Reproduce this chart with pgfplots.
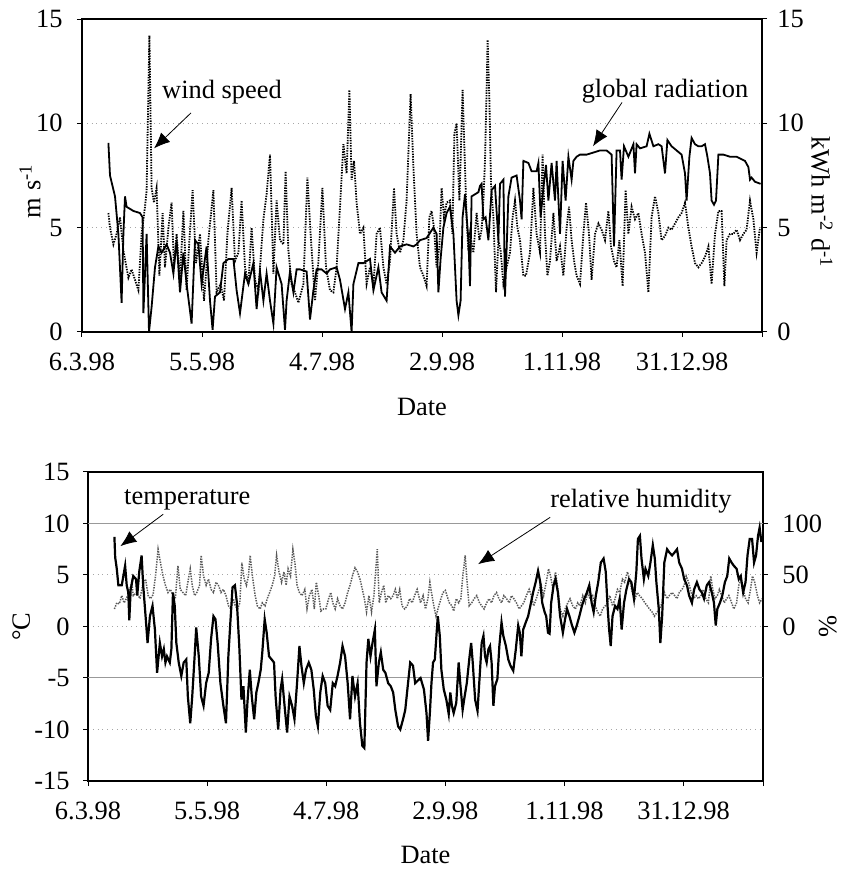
\documentclass[border=0pt,12pt]{standalone}
\usepackage{fontspec}
\setmainfont{Liberation Serif}
\usepackage{pgfplots}
\usepackage{pgfplotstable}
\pgfplotsset{compat=1.18}
\usetikzlibrary{arrows.meta}

% global radiation (kWh m-2 d-1), day since 6.3.98
\pgfplotstableread{
d v
13.2 9.06
14 7.5
16.5 6.5
18.2 4.7
19.8 1.4
20.7 4.7
21.5 6.5
22.3 6.0
25.7 5.8
29 5.7
30.3 5.5
30.7 0.9
32.3 4.7
33.5 0.0
34.8 1.2
36.5 3.1
38.2 4.1
39.8 3.8
42.3 4.2
44 3.8
45.7 2.8
47.3 4.4
49 1.9
50.7 3.8
52.3 2.3
54.8 0.4
56.5 4.4
58.2 4.2
59.8 2.3
62.3 4.1
64 1.5
65.3 0.1
66.5 1.7
69 1.9
70.7 3.3
73.2 3.5
75.7 3.5
77.3 2.0
79 0.9
81.5 2.8
83.2 2.3
85.7 3.3
87.3 1.1
89 2.9
90.7 1.5
92.3 2.8
94 1.5
95.7 0.4
97.3 3.1
99.8 2.3
101.5 0.1
102.3 1.5
104 2.9
105.7 1.9
107.3 3.0
109 3.0
112.3 2.9
114 0.6
115.7 2.0
117.3 3.0
119.8 3.0
122.3 2.8
124 3.0
127.3 3.1
129 2.5
131.5 1.1
133.2 1.9
134.8 0.0
135.7 2.3
138.2 3.3
140.7 3.3
144 3.5
145.7 2.0
148.2 3.1
149.8 1.9
152.3 1.5
154 4.1
156.5 3.8
159 4.1
162.3 4.2
165.7 4.1
167.3 4.2
169 4.4
172.3 4.5
175.7 5.0
177.3 4.7
178.2 1.9
179.3 3.5
180.7 5.0
182.3 5.7
184 6.0
185.7 4.7
187.3 1.5
188.2 0.8
189.3 1.5
190.3 5.5
191.5 6.6
193.2 4.4
194 2.2
194.8 6.5
196.5 6.6
198.2 6.7
199 7.0
199.8 7.1
200.7 5.4
201.8 5.5
203.2 4.4
204.8 6.8
206.5 7.0
208.2 4.4
209 7.1
210.7 7.3
211.5 1.7
213.2 6.5
214.8 7.4
217.3 7.5
219 6.3
219.8 5.4
220.7 8.2
223.2 8.1
224.8 7.7
227.3 7.7
228.2 8.1
229.3 5.5
230.7 6.9
232 8.0
233.2 6.3
234.8 8.1
236.5 6.3
237.3 8.2
239 4.7
240.3 8.2
241.8 6.3
243.2 8.4
244.8 7.3
245.7 8.2
247.3 8.4
249 8.5
252.3 8.5
255.7 8.6
259 8.7
262.3 8.7
264.8 8.5
266 4.1
267.3 8.7
269 8.7
269.8 7.3
271 8.9
273.2 8.4
275.7 9.0
276.5 7.6
277.3 9.0
279 8.8
282.3 8.9
283.7 9.5
285.7 8.9
288.2 9.0
289.8 8.9
291.5 7.6
292.7 9.2
294.8 8.9
297.3 8.7
299.8 8.5
301.5 7.6
302.3 6.3
303.7 8.4
304.8 9.3
306.5 9.0
308.2 8.9
309.8 8.9
311.5 9.0
312.7 8.4
314 7.6
314.8 6.3
316 6.1
317 6.3
318.2 8.5
319.5 8.5
320.7 8.5
324 8.4
327.3 8.4
331.5 8.2
333.2 7.9
334 7.3
334.8 7.4
336.5 7.2
339.3 7.1
}\radtab

% wind speed (m s-1)
\pgfplotstableread{
d v
13.2 5.7
14 5.0
15.7 4.2
17.3 4.7
19 5.5
20.7 3.9
23.2 2.6
24.8 3.0
26.5 2.5
28.2 2.0
29.8 4.7
31.5 6.0
32.3 6.8
33.7 14.2
34.8 6.9
36 6.2
37.3 6.9
38.7 2.7
40.3 5.7
41.5 3.1
43.2 5.0
44.8 6.2
46 3.1
47.3 4.7
49 2.5
50.7 5.8
52.3 2.0
53.7 4.4
55.3 6.8
57 3.3
59 4.7
61 1.5
63.2 4.4
65.7 6.8
67.3 1.9
69.3 2.3
71 1.5
72.7 4.7
74.8 6.9
76.5 3.4
78.2 3.8
79.8 6.3
81.5 3.1
83.2 2.3
84.8 5.0
86.5 2.5
88.2 2.0
90.7 5.4
92.3 6.6
94 8.5
95.7 2.8
97.3 6.3
99 4.4
100.7 4.2
101.8 7.7
103.2 3.9
104.8 2.3
106.5 1.9
108.2 1.4
110.7 2.3
112.7 7.4
114.3 4.7
116.5 1.5
118.2 3.4
120.2 6.9
122 3.1
124 2.0
125.7 1.9
127.3 3.1
129 6.0
130.7 9.0
132.3 7.6
133.7 11.6
134.8 7.3
136 8.2
137.3 6.2
139 4.7
140.7 5.0
142.3 2.3
144 3.1
145.7 2.2
147.3 4.7
149 5.0
150.7 3.1
152.3 2.3
154 3.4
156 6.9
157.3 4.7
159 3.8
160.7 4.4
162.3 6.3
164.3 11.4
165.7 7.9
167.3 4.7
169 3.1
170.7 2.7
172.3 2.2
173.7 5.5
174.8 5.8
176 5.0
177.3 3.1
178.7 4.1
179.8 6.9
181 5.5
182.3 6.2
184 6.3
185.2 4.7
186.2 9.5
187.3 10.0
188.7 6.3
189.3 8.2
190.3 11.6
191.5 7.9
192.3 5.4
193.2 3.9
194 4.7
195.7 3.8
197.3 5.7
198.7 4.4
199.8 4.9
200.7 6.3
201.5 8.2
202.3 11.6
202.8 14.0
203.7 11.1
204.5 7.1
205.7 5.5
207 1.9
208.2 4.4
209.3 3.9
210.7 2.3
212.3 3.1
214 3.8
215.3 5.5
216.5 6.3
217.7 5.0
219 4.4
220.7 2.7
222 2.7
224 3.8
225.7 6.9
227.3 4.7
229 3.8
230.3 8.5
231.5 4.7
232.7 2.7
234 3.4
235.7 5.7
237.3 3.4
239 4.1
240.7 2.7
242.3 5.0
243.5 6.0
244.8 4.4
246.2 3.3
247.3 2.7
249 2.3
250.7 4.7
252 6.2
253.5 4.7
254.8 2.5
256.5 4.7
258.2 5.2
259.8 4.9
261.5 4.4
263.2 5.8
264.5 4.1
266 3.4
267.3 3.1
268.7 4.4
270.3 2.2
271.8 6.8
273.2 4.7
274.8 6.0
276.5 5.4
278.2 5.7
279.8 4.7
281.5 3.8
283.2 1.9
284.8 5.5
286.5 6.5
288.2 5.7
289.8 4.4
291.5 4.6
293.2 5.0
294.8 4.9
296.5 5.2
298.2 5.5
299.8 5.7
301.5 6.2
303.2 5.0
304.8 4.1
306.5 3.3
308.2 3.1
309.8 3.3
311.5 3.6
313.2 4.1
314.8 2.3
316.5 4.7
318.2 5.8
319.8 5.8
321.2 2.2
322.3 4.4
324 4.7
325.7 4.7
327.3 4.9
329 4.4
330.7 4.7
332.3 4.9
334 6.3
335.7 5.4
337.3 3.8
339 5.0
}\windtab

% air temperature (deg C)
\pgfplotstableread{
d v
13.3 8.7
13.7 6.7
14.5 5.6
15.3 4.0
17 4.0
18.7 5.9
19.5 4.0
20.3 3.3
20.8 0.6
21.5 3.6
22.8 4.9
24.2 4.6
24.8 3.0
25.8 5.3
27 6.9
27.8 4.0
29 1.0
30 -1.6
31.2 1.0
32.5 2.0
33.7 -0.3
34.8 -4.5
36.2 -1.6
37.3 -2.9
38.2 -2.2
39 -3.5
39.8 -2.9
41.2 -3.5
42 -2.2
42.8 3.3
43.7 2.0
44.5 -1.6
45.7 -3.5
47 -4.8
48.2 -3.5
49.5 -3.2
50.3 -6.8
51.5 -9.4
52.5 -6.8
53.7 -2.9
54.5 -0.1
55.8 -2.9
57 -6.8
58.2 -7.7
59.5 -5.5
60.8 -4.5
62 -1.2
63.2 1.0
64.2 0.7
65.3 -1.6
66.7 -5.5
68.2 -7.7
69.5 -9.4
70.7 -2.9
71.7 0.4
72.8 3.8
74 4.0
75 2.3
76.2 -1.9
77.3 -7.1
78.3 -5.8
79.5 -10.3
80.3 -7.4
81.5 -4.2
82.5 -6.8
83.7 -9.0
84.8 -6.4
85.8 -5.5
87 -4.2
87.8 -2.5
89 0.7
90 -0.6
91.2 -2.9
92.5 -3.2
93.7 -3.5
94.5 -6.8
95.8 -10.0
97 -6.1
97.8 -5.1
99.2 -8.1
100.3 -10.3
101.5 -6.8
102.8 -7.7
104 -9.0
105.3 -5.5
106.5 -1.9
107.5 -3.8
108.7 -5.5
109.8 -4.2
111.2 -3.5
112.5 -4.2
113.7 -6.1
114.8 -8.7
115.8 -9.7
117 -6.4
118.2 -4.8
119.5 -5.5
120.7 -7.7
122 -8.1
123.3 -5.5
124.5 -5.8
125.7 -4.8
127 -3.5
128.2 -1.9
129.5 -2.9
130.8 -5.5
132 -9.0
133.2 -4.8
134.5 -6.8
135.8 -5.5
137 -9.4
138.2 -11.6
139.2 -11.8
140.3 -3.5
141.2 -1.2
142.3 -2.9
143.3 -1.6
144.5 -0.3
145.3 -5.8
146.5 -3.5
147.5 -2.5
148.7 -4.2
149.8 -4.5
151.2 -5.5
152.5 -5.8
153.7 -6.4
154.8 -8.1
156.2 -9.7
157.3 -10.0
158.7 -9.0
159.8 -8.1
161.2 -5.5
162.3 -3.5
163.7 -3.8
164.8 -5.5
167.5 -5.0
169.2 -6.1
170.5 -8.4
171.3 -11.1
172.2 -8.4
173 -5.5
173.8 -3.5
174.7 -3.2
175.5 -0.9
176.2 1.0
177.2 -0.9
178 -4.2
179.2 -6.1
180.5 -7.1
181.7 -8.5
182.5 -6.4
183.3 -7.7
184.2 -8.4
185.5 -7.4
186.7 -3.5
187.5 -5.5
188.7 -8.1
189.7 -6.8
190.8 -5.5
192.2 -2.9
193 -1.6
193.8 -3.5
195 -7.1
196.2 -8.2
197.2 -5.1
198.3 -1.6
199.2 -0.9
200 -2.9
200.8 -3.5
201.7 -2.2
202.5 -1.9
203.3 -3.5
204.2 -7.7
205 -5.8
206.2 -5.1
207.2 -1.9
208.3 0.4
209.2 -0.9
210.5 -1.9
211.7 -3.2
212.8 -3.8
214.2 -4.3
215.5 -2.2
216.7 0.1
217.5 -0.6
218.3 -2.9
219.2 -0.3
220.5 0.4
221.7 1.0
222.8 2.0
224.2 3.3
225.5 4.3
226.7 5.4
227.8 4.3
228.8 2.3
230 1.4
230.8 1.0
231.7 -0.6
232.5 -0.7
233.3 2.3
234.5 4.0
235.5 4.6
236.7 3.3
237.8 1.0
239.2 -0.6
240.3 0.7
241.3 1.7
242.5 1.0
243.8 0.1
245 -0.6
246.2 0.1
247.5 1.0
248.8 2.0
250 2.7
251.3 3.3
252.5 4.0
253.7 2.3
254.7 1.4
255.8 3.0
257 4.3
258.3 6.2
259.7 6.6
260.8 5.3
261.7 2.0
262.5 -0.3
263.3 -1.9
264.2 1.0
265.5 2.0
266.7 1.7
267.8 2.7
268.8 -0.3
270 2.3
271.2 3.6
272.5 4.6
273.7 4.3
275 2.7
276.2 5.3
277 8.5
278 8.8
278.8 6.6
280 4.6
280.8 5.6
282.2 4.9
283.3 6.2
284.5 7.9
285.5 6.6
286.3 4.3
287.5 1.7
288.3 -1.6
289.2 1.0
290.3 6.2
291.7 7.5
292.8 7.2
294.2 6.9
295.5 7.2
296.7 7.5
297.8 6.2
299.2 5.6
300.3 4.6
301.7 4.0
302.8 3.0
304.2 2.3
305.3 3.6
306.7 4.3
308 3.6
309.2 3.3
310.3 2.7
311.7 4.0
312.8 4.3
314.2 3.3
315.3 2.3
316.2 0.1
317 1.7
318.3 2.3
319.5 3.0
320.8 4.3
322 4.9
323 6.6
324.2 6.2
325.3 5.9
326.7 5.6
327.8 4.6
328.8 4.9
330 3.3
331.2 4.3
332.2 6.9
333.3 8.5
334.5 8.5
335.5 6.2
336.5 6.9
337.5 8.8
338.3 9.6
339.2 8.2
}\temptab

% relative humidity (%)
\pgfplotstableread{
d v
13.3 17
14.5 23
15.8 22
17 30
18.2 23
19.5 28
20.8 33
22 43
22.8 30
24.5 33
26.2 27
27.5 40
29 46
30.3 30
31.5 27
32.8 31
34 49
35.3 75
36.5 62
37.8 49
39 40
40.3 33
41.5 36
42.8 30
44 27
45.3 59
46.5 36
47.8 33
49.2 30
50.3 43
51.5 56
52.5 40
53.7 30
54.8 33
56.2 40
57 69
58.2 49
59.5 40
60.7 46
62 36
63.2 33
64.5 43
65.7 40
67 33
68.2 36
69.5 30
70.8 20
72 17
73.2 27
74.2 20
75.3 17
76.5 23
77.5 62
78.7 46
79.8 40
80.8 49
81.7 69
82.8 49
84.2 30
85.3 20
86.7 17
87.8 23
89.2 20
90.3 27
91.5 33
92.8 40
94 49
95 69
96.2 53
97.5 43
98.7 53
99.8 40
100.8 56
102 49
103.2 75
104.2 62
105.3 40
106.5 33
107.8 30
109.2 36
110.3 17
111.5 30
112.8 36
114 17
115 43
116.2 30
117.3 15
118.7 17
119.8 17
121.2 27
122.3 33
123.3 23
124.5 17
125.7 27
127 20
128.2 17
129.5 23
130.8 33
132 40
133.2 49
134.5 57
135.8 53
137 46
138.2 36
139.2 27
140.3 14
141.5 30
142.8 14
144 30
145 56
145.7 75
146.7 23
147.8 33
149 40
150 23
151.2 30
152.5 27
153.7 30
154.8 36
155.8 27
157 36
158.2 20
159.5 17
160.8 20
162 27
163.3 23
164.5 30
165.8 36
167.5 23
168.8 30
170 17
171.2 27
172.2 43
173 33
174.2 20
175.3 10
176.7 20
177.8 27
178.8 33
180 35
180.8 30
182 23
183.3 20
184.2 15
185.5 27
186.7 23
187.8 27
188.8 49
190 69
190.8 46
192 20
193.3 23
194.5 27
195.8 30
197.2 23
198.3 20
199.5 17
200.8 23
202 27
203.3 23
204.5 30
205.8 33
207 27
208.3 23
209.5 30
210.8 27
212.2 23
213.3 30
214.5 27
215.8 23
217.2 17
218.3 20
219.5 23
220.8 30
222.2 36
223.3 30
224.5 20
225.8 27
227.2 36
228.3 40
229.5 30
230.8 43
232 56
233 49
234.2 36
235.5 53
236.7 36
237.8 17
239.2 10
240.3 17
241.7 23
242.8 27
244.2 20
245.5 17
246.7 23
247.8 20
249.2 30
250.5 23
251.7 33
252.8 27
254.2 30
255.5 20
256.7 14
258 10
259.2 17
260.5 20
261.7 23
262.8 30
264.2 20
265.5 27
266.7 36
267.8 33
269.2 46
270.3 43
271.7 53
272.8 46
274.2 33
275.5 27
276.7 33
277.8 30
279.2 27
280.5 23
281.7 20
282.8 17
284.2 14
285.3 10
286.7 14
287.8 17
289.2 23
290.3 33
291.7 27
292.8 30
294.2 33
295.5 30
296.7 27
297.8 33
299.2 36
300.3 40
301.3 49
302.5 43
303.8 33
305 27
306.3 30
307.5 27
308.8 30
310 36
311.2 27
312.5 23
313.7 49
314.7 36
315.8 27
317 30
318 36
319.2 30
320.5 23
321.7 27
322.8 30
324.2 23
325.3 17
326.7 23
327.8 40
328.8 46
330 36
331.2 27
332.5 23
333.7 36
334.7 49
335.8 43
337.2 30
338.3 23
339.5 27
}\rhtab

\pgfplotsset{
  common/.style={
    scale only axis,
    xmin=0, xmax=340,
    xtick={0,60,...,300},
    xticklabels={6.3.98,5.5.98,4.7.98,2.9.98,1.11.98,31.12.98},
    extra x ticks={340}, extra x tick labels={},
    tick align=outside,
    major tick length=2.5pt,
    tick style={black, line width=0.5pt},
    /pgf/number format/assume math mode=true,
    axis line style={line width=0.6pt},
    xticklabel shift=4pt,
    major grid style={gray!70, dotted, line width=0.5pt},
  },
  dotline/.style={black, line width=0.9pt, dash pattern=on 0.7pt off 0.6pt},
  solidline/.style={black, line width=0.9pt},
}

\begin{document}
\begin{tikzpicture}[font=\fontsize{13.2pt}{15.8pt}\selectfont]
\path[use as bounding box] (0,0) rectangle (420.5pt,434.5pt);

% ---------- top panel: left axis (wind speed)
\begin{axis}[common,
  at={(41pt,268.5pt)}, anchor=south west,
  width=340pt, height=156.5pt,
  ymin=0, ymax=15, ytick={0,5,10,15},
  ymajorgrids, xtick pos=bottom, ytick pos=left,
  yticklabel shift=3pt,
  ylabel={m s\textsuperscript{-1}},
  ylabel style={at={(axis description cs:-0.0765,0.45)}, anchor=center},
  xlabel={Date},
  xlabel style={at={(axis description cs:0.5,-0.24)}, anchor=center},
]
\addplot[dotline] table[x=d,y=v] {\windtab};
\node at (axis cs:70,11.5) {wind speed};
\draw[-{Latex[length=8pt,width=6.5pt]}, line width=0.4pt] (axis cs:54.5,10.5) -- (axis cs:36,8.8);
\end{axis}

% ---------- top panel: right axis (global radiation)
\begin{axis}[common,
  at={(41pt,268.5pt)}, anchor=south west,
  width=340pt, height=156.5pt,
  ymin=0, ymax=15, ytick={0,5,10,15},
  axis y line*=right, axis x line=none,
  yticklabel shift=1pt,
  ylabel={kWh m\textsuperscript{-2} d\textsuperscript{-1}},
  ylabel style={at={(axis description cs:1.088,0.415)}, anchor=center, rotate=180},
]
\addplot[solidline] table[x=d,y=v] {\radtab};
\node at (axis cs:291.5,11.55) {global radiation};
\draw[-{Latex[length=8pt,width=6.5pt]}, line width=0.4pt] (axis cs:270,11.0) -- (axis cs:255.5,8.9);
\end{axis}

% ---------- bottom panel: right axis (relative humidity)
\begin{axis}[common,
  at={(44pt,44pt)}, anchor=south west,
  width=337.5pt, height=154.5pt,
  ymin=-150, ymax=150, ytick={0,50,100},
  axis y line*=right, axis x line=none,
  yticklabel shift=3pt,
  ylabel={\%},
  ylabel style={at={(axis description cs:1.096,0.5)}, anchor=center, rotate=180},
]
\addplot[dotline, black!65, line width=0.75pt] table[x=d,y=v] {\rhtab};
\end{axis}

% ---------- bottom panel: left axis (temperature)
\begin{axis}[common,
  at={(44pt,44pt)}, anchor=south west,
  width=337.5pt, height=154.5pt,
  ymin=-15, ymax=15, ytick={-15,-10,...,15},
  ymajorgrids, xtick pos=bottom, ytick pos=left,
  extra y ticks={10,-5}, extra y tick labels={},
  extra y tick style={major grid style={gray!80, solid, line width=0.5pt}},
  yticklabel shift=2.5pt,
  ylabel={°C},
  ylabel style={at={(axis description cs:-0.099,0.5)}, anchor=center},
  xlabel={Date},
  xlabel style={at={(axis description cs:0.5,-0.24)}, anchor=center},
]
\addplot[solidline, line width=1.1pt] table[x=d,y=v] {\temptab};
\node at (axis cs:50,12.3) {temperature};
\draw[-{Latex[length=8pt,width=6.5pt]}, line width=0.4pt] (axis cs:37.9,10.9) -- (axis cs:16.3,7.8);
\node at (axis cs:278.5,12.2) {relative humidity};
\draw[-{Latex[length=8pt,width=6.5pt]}, line width=0.4pt] (axis cs:232.8,10.6) -- (axis cs:196.5,6.05);
\end{axis}
\end{tikzpicture}
\end{document}
